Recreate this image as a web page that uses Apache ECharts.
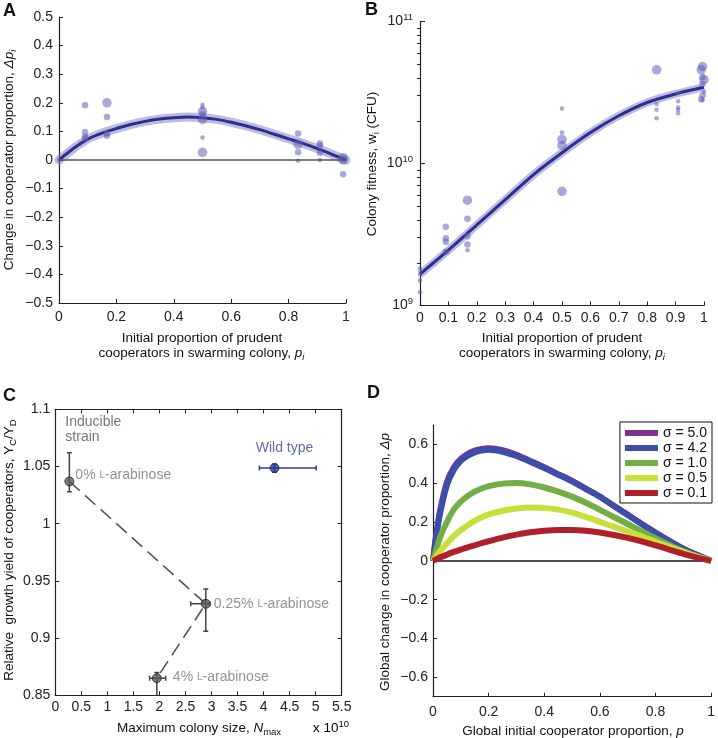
<!DOCTYPE html>
<html><head><meta charset="utf-8">
<script src="https://cdn.jsdelivr.net/npm/echarts@6/dist/echarts.min.js"></script>
<style>html,body{margin:0;padding:0;background:#fff}#c{width:718px;height:738px}</style>
</head><body><div id="c"></div>
<script>
// ---------- Panel A ----------
const aPointX = [0, 0.091,0.091,0.091,0.091, 0.167,0.167,0.167,0.167, 0.5,0.5,0.5,0.5,0.5,0.5,0.5, 0.833,0.833,0.833,0.833, 0.909,0.909,0.909,0.909, 0.99,0.99,0.99];
const aPointY = [0, 0.191,0.098,0.081,0.075, 0.2,0.15,0.093,0.085, 0.193,0.184,0.17,0.16,0.142,0.079,0.027, 0.093,0.055,0.027,-0.003, 0.058,0.05,0.025,0, 0.008,0,-0.05];
const aPointWeight = [1, 2,2,2,2, 3,2,2,2, 1,1,3,2,3,1,3, 2,3,2,1, 2,2,2,1, 3,3,2];
const aCurveX = [0,0.05,0.1,0.15,0.2,0.25,0.3,0.35,0.4,0.45,0.5,0.55,0.6,0.65,0.7,0.75,0.8,0.85,0.9,0.95,1];
const aCurveY = [0,0.04,0.073,0.094,0.11,0.124,0.135,0.143,0.148,0.15,0.148,0.142,0.132,0.12,0.106,0.09,0.074,0.058,0.04,0.02,0];

// ---------- Panel B ----------
const bPointX = [0,0,0,0, 0.091,0.091,0.091,0.091, 0.167,0.167,0.167,0.167,0.167, 0.5,0.5,0.5,0.5,0.5, 0.833,0.833,0.833,0.833, 0.909,0.909,0.909,0.909,0.909, 0.995,0.99,0.995,1,0.995,1,0.995,0.99,0.995];
const bPointY = [1.82e9,1.66e9,1.5e9,1.24e9, 3.59e9,2.97e9,2.81e9,2.39e9, 5.52e9,4.09e9,3.08e9,2.69e9,2.45e9, 2.44e10,1.65e10,1.48e10,1.34e10,6.37e9, 4.57e10,2.62e10,2.39e10,2.08e10, 3.13e10,2.74e10,2.48e10,2.39e10,2.26e10, 4.82e10,4.57e10,4.06e10,3.89e10,3.63e10,3.2e10,3.03e10,2.84e10,2.8e10];
const bPointWeight = [1,1,1,1, 2,2,2,2, 3,2,2,2,1, 1,1,3,3,3, 3,1,1,1, 1,1,1,1,1, 3,3,2,3,2,1,2,2,1];
const bCurveX = [0,0.1,0.2,0.3,0.4,0.5,0.6,0.7,0.8,0.9,1];
const bCurveY = [1.66e9,2.45e9,3.69e9,5.56e9,8.36e9,1.19e10,1.65e10,2.17e10,2.69e10,3.09e10,3.44e10];
const bMajorTicks = [1e9,1e10,1e11];
const bMinorTicks = [2e9,3e9,4e9,5e9,6e9,7e9,8e9,9e9,2e10,3e10,4e10,5e10,6e10,7e10,8e10,9e10];

// ---------- Panel C (x in units of 10^10) ----------
const cInducibleNames = ['0%','0.25%','4%'];
const cInducibleX = [0.27,2.89,1.95];
const cInducibleY = [1.037,0.930,0.865];
const cInducibleXLow = [0.27,2.60,1.81];
const cInducibleXHigh = [0.27,2.97,2.12];
const cInducibleYLow = [1.028,0.906,0.840];
const cInducibleYHigh = [1.062,0.943,0.870];
const cWildX = [4.21];
const cWildY = [1.0487];
const cWildXLow = [3.92];
const cWildXHigh = [5.01];
const cWildYLow = [1.045];
const cWildYHigh = [1.052];

// ---------- Panel D ----------
const dX = [0,0.01,0.025,0.05,0.075,0.1,0.125,0.15,0.175,0.2,0.25,0.3,0.35,0.4,0.45,0.5,0.55,0.6,0.65,0.7,0.75,0.8,0.85,0.9,0.95,1];
const dSigmaNames = ['σ = 5.0','σ = 4.2','σ = 1.0','σ = 0.5','σ = 0.1'];
const dSigma50 = [0,0.12,0.255,0.405,0.482,0.525,0.552,0.568,0.577,0.58,0.57,0.546,0.515,0.482,0.447,0.412,0.372,0.331,0.284,0.238,0.191,0.146,0.103,0.063,0.03,0];
const dSigma42 = [0,0.11,0.24,0.39,0.47,0.515,0.542,0.559,0.568,0.572,0.562,0.54,0.51,0.478,0.444,0.41,0.37,0.33,0.283,0.237,0.19,0.145,0.102,0.063,0.03,0];
const dSigma10 = [0,0.05,0.12,0.2,0.265,0.305,0.335,0.357,0.373,0.385,0.398,0.401,0.394,0.378,0.357,0.331,0.299,0.263,0.226,0.19,0.153,0.117,0.082,0.05,0.023,0];
const dSigma05 = [0,0.02,0.05,0.09,0.128,0.158,0.184,0.206,0.224,0.239,0.258,0.27,0.275,0.273,0.264,0.249,0.226,0.201,0.176,0.152,0.126,0.099,0.072,0.046,0.022,0];
const dSigma01 = [0,0.007,0.017,0.032,0.046,0.058,0.07,0.08,0.091,0.101,0.12,0.135,0.147,0.155,0.159,0.159,0.155,0.146,0.133,0.118,0.1,0.08,0.058,0.036,0.017,0];
const dYTicks = [-0.6,-0.4,-0.2,0,0.2,0.4,0.6];

// ---------- styling ----------
const FONT = 'Liberation Sans, Arial, Helvetica, sans-serif';
const AX = '#222';
const TICKFS = 14;
const TITLEFS = 13.5;
const sizeMap = {1:4.5, 2:6.5, 3:9.5};
const ptColor = 'rgba(95,95,185,0.68)';
const curveColor = '#2e2f88';
const bandColor = 'rgba(120,120,205,0.5)';
const minus = v => String(v).replace('-', '\u2212');

function zip(xs, ys) { return xs.map((x, i) => [x, ys[i]]); }

const lab = (extra) => Object.assign({color: AX, fontSize: TICKFS, fontFamily: FONT}, extra || {});
const axLine = {show: true, onZero: false, lineStyle: {color: AX, width: 1.2}};
const tick = (len) => ({show: true, inside: true, length: len || 4, lineStyle: {color: AX, width: 1}});

function errRender(params, api) {
  const x = api.value(0), y = api.value(1);
  const xl = api.value(2), xh = api.value(3), yl = api.value(4), yh = api.value(5);
  const col = api.visual('color');
  const st = {stroke: col, lineWidth: 1.5};
  const ch = [];
  const cap = 2.5;
  if (xh > xl) {
    const a = api.coord([xl, y]), b = api.coord([xh, y]);
    ch.push({type: 'line', shape: {x1: a[0], y1: a[1], x2: b[0], y2: b[1]}, style: st});
    ch.push({type: 'line', shape: {x1: a[0], y1: a[1] - cap, x2: a[0], y2: a[1] + cap}, style: st});
    ch.push({type: 'line', shape: {x1: b[0], y1: b[1] - cap, x2: b[0], y2: b[1] + cap}, style: st});
  }
  if (yh > yl) {
    const a = api.coord([x, yl]), b = api.coord([x, yh]);
    ch.push({type: 'line', shape: {x1: a[0], y1: a[1], x2: b[0], y2: b[1]}, style: st});
    ch.push({type: 'line', shape: {x1: a[0] - cap, y1: a[1], x2: a[0] + cap, y2: a[1]}, style: st});
    ch.push({type: 'line', shape: {x1: b[0] - cap, y1: b[1], x2: b[0] + cap, y2: b[1]}, style: st});
  }
  return {type: 'group', children: ch};
}

const scLabelRich = {r: {fontSize: 14, color: '#777', fontFamily: FONT}, sc: {fontSize: 10, color: '#777', fontFamily: FONT}};
const cLabelDist = [1, 3, 11];
const cLabelOffset = [[0, -6], [0, 0], [0, -1]];

const chart = echarts.init(document.getElementById('c'), null, {renderer: 'canvas'});

const option = {
  animation: false,
  backgroundColor: '#fff',
  textStyle: {fontFamily: FONT},
  grid: [
    {left: 59, top: 17, width: 287, height: 286},
    {left: 420, top: 21.5, width: 284, height: 284},
    {left: 55.3, top: 409.3, width: 286.4, height: 286},
    {left: 433, top: 425, width: 281, height: 271.7}
  ],
  xAxis: [
    {gridIndex: 0, type: 'value', min: 0, max: 1, interval: 0.2, axisLine: axLine, axisTick: tick(4), splitLine: {show: false},
      axisLabel: lab({margin: 7})},
    {gridIndex: 1, type: 'value', min: 0, max: 1, interval: 0.1, axisLine: axLine, axisTick: tick(4), splitLine: {show: false},
      axisLabel: lab({margin: 6})},
    {gridIndex: 2, type: 'value', min: 0, max: 5.5, interval: 0.5, axisLine: axLine, axisTick: tick(4), splitLine: {show: false},
      axisLabel: lab({margin: 5})},
    {gridIndex: 2, type: 'value', position: 'top', min: 0, max: 5.5, interval: 0.5, axisLine: axLine, axisTick: tick(4), splitLine: {show: false},
      axisLabel: {show: false}},
    {gridIndex: 3, type: 'value', min: 0, max: 1, interval: 0.2, axisLine: axLine, axisTick: tick(4), splitLine: {show: false},
      axisLabel: lab({margin: 8})}
  ],
  yAxis: [
    {gridIndex: 0, type: 'value', min: -0.5, max: 0.5, interval: 0.1, axisLine: axLine, axisTick: tick(4), splitLine: {show: false},
      axisLabel: lab({margin: 6, formatter: v => minus(Math.round(v * 10) / 10)})},
    {gridIndex: 1, type: 'log', logBase: 10, min: 1e9, max: 1e11, axisLine: axLine, splitLine: {show: false},
      axisTick: Object.assign(tick(5), {customValues: bMajorTicks}),
      axisLabel: lab({margin: 7, customValues: bMajorTicks,
        formatter: v => '{b|10}{s|' + Math.round(Math.log10(v)) + '}',
        rich: {b: {fontSize: TICKFS, color: AX, fontFamily: FONT}, s: {fontSize: 9.5, color: AX, fontFamily: FONT, padding: [0, 0, 8, 0]}}})},
    {gridIndex: 1, type: 'log', logBase: 10, min: 1e9, max: 1e11, axisLine: {show: false}, splitLine: {show: false},
      axisTick: Object.assign(tick(3), {customValues: bMinorTicks}), axisLabel: {show: false}},
    {gridIndex: 2, type: 'value', min: 0.85, max: 1.1, interval: 0.05, axisLine: axLine, axisTick: tick(4), splitLine: {show: false},
      axisLabel: lab({margin: 5, formatter: v => String(Math.round(v * 100) / 100)})},
    {gridIndex: 2, type: 'value', position: 'right', min: 0.85, max: 1.1, interval: 0.05, axisLine: axLine, axisTick: tick(4), splitLine: {show: false},
      axisLabel: {show: false}},
    {gridIndex: 3, type: 'value', min: -0.7, max: 0.7, interval: 0.1, axisLine: axLine, splitLine: {show: false},
      axisTick: Object.assign(tick(4), {customValues: dYTicks}),
      axisLabel: lab({margin: 5, customValues: dYTicks, formatter: v => minus(Math.round(v * 10) / 10)})}
  ],
  legend: {
    data: dSigmaNames, orient: 'vertical', right: 6, top: 422, icon: 'rect', itemWidth: 33, itemHeight: 6, itemGap: 1,
    padding: [4, 5, 3, 5], backgroundColor: '#fff', borderColor: '#111', borderWidth: 1, borderRadius: 0,
    textStyle: {fontSize: 14, color: '#111', fontFamily: FONT, lineHeight: 14}, selectedMode: false
  },
  series: [
    // Panel A
    {type: 'line', xAxisIndex: 0, yAxisIndex: 0, data: zip(aCurveX, aCurveY), smooth: 0.3, symbol: 'none',
      lineStyle: {color: bandColor, width: 9, cap: 'round'}, silent: true, z: 2},
    {type: 'line', xAxisIndex: 0, yAxisIndex: 0, data: zip(aCurveX, aCurveY), smooth: 0.3, symbol: 'none',
      lineStyle: {color: curveColor, width: 3}, silent: true, z: 3,
      markLine: {silent: true, symbol: 'none', label: {show: false}, lineStyle: {color: '#555', width: 1.5, type: 'solid'}, data: [{yAxis: 0}]}},
    {type: 'scatter', xAxisIndex: 0, yAxisIndex: 0, data: aPointX.map((x, i) => [x, aPointY[i], aPointWeight[i]]),
      symbolSize: v => sizeMap[v[2]], itemStyle: {color: ptColor}, z: 4},
    // Panel B
    {type: 'line', xAxisIndex: 1, yAxisIndex: 1, data: zip(bCurveX, bCurveY), smooth: 0.3, symbol: 'none',
      lineStyle: {color: bandColor, width: 8}, silent: true, z: 2},
    {type: 'line', xAxisIndex: 1, yAxisIndex: 1, data: zip(bCurveX, bCurveY), smooth: 0.3, symbol: 'none',
      lineStyle: {color: curveColor, width: 3}, silent: true, z: 3},
    {type: 'scatter', xAxisIndex: 1, yAxisIndex: 1, data: bPointX.map((x, i) => [x, bPointY[i], bPointWeight[i]]),
      symbolSize: v => sizeMap[v[2]], itemStyle: {color: ptColor}, z: 4},
    // Panel C
    {type: 'line', xAxisIndex: 2, yAxisIndex: 3, data: zip(cInducibleX, cInducibleY), symbol: 'none',
      lineStyle: {color: '#555', width: 1.6, type: [14, 7]}, silent: true, z: 2},
    {type: 'custom', xAxisIndex: 2, yAxisIndex: 3, renderItem: errRender, clip: true, itemStyle: {color: '#444'},
      data: cInducibleX.map((x, i) => [x, cInducibleY[i], cInducibleXLow[i], cInducibleXHigh[i], cInducibleYLow[i], cInducibleYHigh[i]]), z: 3},
    {type: 'custom', xAxisIndex: 2, yAxisIndex: 3, renderItem: errRender, clip: true, itemStyle: {color: '#2f3a8f'},
      data: cWildX.map((x, i) => [x, cWildY[i], cWildXLow[i], cWildXHigh[i], cWildYLow[i], cWildYHigh[i]]), z: 3},
    {type: 'scatter', xAxisIndex: 2, yAxisIndex: 3, symbolSize: 9,
      itemStyle: {color: '#5a5a5a', borderColor: '#222', borderWidth: 1}, z: 4,
      data: cInducibleX.map((x, i) => ({value: [x, cInducibleY[i]],
        label: {show: true, position: 'right', distance: cLabelDist[i], offset: cLabelOffset[i],
          formatter: '{r|' + cInducibleNames[i] + ' }{sc|L}{r|-arabinose}', rich: scLabelRich}}))},
    {type: 'scatter', xAxisIndex: 2, yAxisIndex: 3, symbolSize: 9,
      itemStyle: {color: '#2f3a8f', borderColor: '#1c2360', borderWidth: 1}, z: 4,
      data: cWildX.map((x, i) => ({value: [x, cWildY[i]],
        label: {show: true, position: 'top', distance: 8, offset: [10, 0], formatter: 'Wild type',
          color: '#3b45a0', fontSize: 14, fontFamily: FONT}}))},
    // Panel D
    {name: dSigmaNames[0], type: 'line', xAxisIndex: 4, yAxisIndex: 5, data: zip(dX, dSigma50), smooth: 0.2, symbol: 'none',
      color: '#7a318f', lineStyle: {width: 6}, z: 3,
      markLine: {silent: true, symbol: 'none', label: {show: false}, lineStyle: {color: '#111', width: 1.5, type: 'solid'}, data: [{yAxis: 0}]}},
    {name: dSigmaNames[1], type: 'line', xAxisIndex: 4, yAxisIndex: 5, data: zip(dX, dSigma42), smooth: 0.2, symbol: 'none',
      color: '#3d4eaa', lineStyle: {width: 6}, z: 4},
    {name: dSigmaNames[2], type: 'line', xAxisIndex: 4, yAxisIndex: 5, data: zip(dX, dSigma10), smooth: 0.2, symbol: 'none',
      color: '#73ae46', lineStyle: {width: 6}, z: 5},
    {name: dSigmaNames[3], type: 'line', xAxisIndex: 4, yAxisIndex: 5, data: zip(dX, dSigma05), smooth: 0.2, symbol: 'none',
      color: '#c9df3c', lineStyle: {width: 6}, z: 6},
    {name: dSigmaNames[4], type: 'line', xAxisIndex: 4, yAxisIndex: 5, data: zip(dX, dSigma01), smooth: 0.2, symbol: 'none',
      color: '#b0202a', lineStyle: {width: 6}, z: 7}
  ]
};

chart.setOption(option);

// Text annotations: panel letters and axis titles
const T = (x, y, rich, text, extra) => Object.assign({
  type: 'text', x: x, y: y, silent: true, z: 100,
  style: {text: text, rich: rich, align: 'center', verticalAlign: 'middle', fill: '#111', font: TITLEFS + 'px ' + FONT}
}, extra || {});

const richBase = {
  n: {fontSize: TITLEFS, fontFamily: FONT, color: '#111'},
  i: {fontSize: TITLEFS, fontFamily: FONT, color: '#111', fontStyle: 'italic'},
  sub: {fontSize: 9.5, fontFamily: FONT, color: '#111', padding: [8, 0, 0, 0]},
  subi: {fontSize: 9.5, fontFamily: FONT, color: '#111', fontStyle: 'italic', padding: [8, 0, 0, 0]},
  sup: {fontSize: 9.5, fontFamily: FONT, color: '#111', padding: [0, 0, 8, 0]}
};
const R = Math.PI / 2;
const pInd = chart.convertToPixel({xAxisIndex: 2, yAxisIndex: 3}, [cInducibleX[0], cInducibleY[0]]);

const graphics = [
  {type: 'text', x: 3, y: 11.5, style: {text: 'A', font: 'bold 18px ' + FONT, fill: '#111', verticalAlign: 'middle'}},
  {type: 'text', x: 365, y: 10, style: {text: 'B', font: 'bold 18px ' + FONT, fill: '#111', verticalAlign: 'middle'}},
  {type: 'text', x: 3, y: 396, style: {text: 'C', font: 'bold 18px ' + FONT, fill: '#111', verticalAlign: 'middle'}},
  {type: 'text', x: 367, y: 393.5, style: {text: 'D', font: 'bold 18px ' + FONT, fill: '#111', verticalAlign: 'middle'}},
  // A
  T(202, 338, richBase, '{n|Initial proportion of prudent}'),
  T(201.5, 353, richBase, '{n|cooperators in swarming colony, }{i|p}{subi|i}'),
  T(9, 160, richBase, '{n|Change in cooperator proportion, }{i|Δp}{subi|i}', {rotation: R}),
  // B
  T(562, 338, richBase, '{n|Initial proportion of prudent}'),
  T(562, 353, richBase, '{n|cooperators in swarming colony, }{i|p}{subi|i}'),
  T(372, 164, richBase, '{n|Colony fitness, w}{sub|i}{n| (CFU)}', {rotation: R}),
  // C
  T(9, 550, richBase, '{n|Relative  growth yield of cooperators, Y}{sub|C}{n|/Y}{sub|D}', {rotation: R}),
  T(199, 728, richBase, '{n|Maximum colony size, }{i|N}{sub|max}'),
  {type: 'text', x: 313, y: 728, silent: true, style: {text: '{n|x 10}{sup|10}', rich: richBase, verticalAlign: 'middle'}},
  {type: 'text', x: pInd[0] - 4, y: pInd[1] - 59, silent: true, style: {text: 'Inducible', font: '14px ' + FONT, fill: '#777', verticalAlign: 'middle'}},
  {type: 'text', x: pInd[0] - 4, y: pInd[1] - 44, silent: true, style: {text: 'strain', font: '14px ' + FONT, fill: '#777', verticalAlign: 'middle'}},
  // D
  T(385, 562, richBase, '{n|Global change in cooperator proportion, }{i|Δp}', {rotation: R}),
  T(573, 731, richBase, '{n|Global initial cooperator proportion, }{i|p}')
];
chart.setOption({graphic: graphics});
</script>
</body></html>
